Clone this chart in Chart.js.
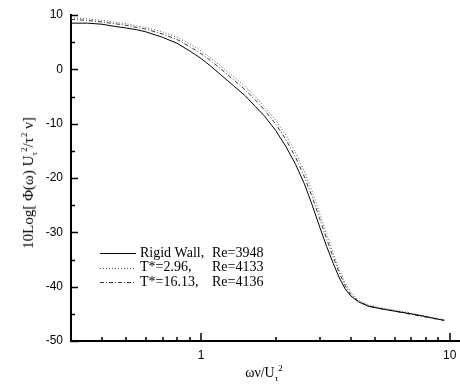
<!DOCTYPE html>
<html>
<head>
<meta charset="utf-8">
<script src="https://cdn.jsdelivr.net/npm/chart.js@4"></script>
<style>
  html, body { margin: 0; padding: 0; background: #fff; }
  #wrap { position: relative; width: 460px; height: 385px; }
  #chart { position: absolute; left: 0; top: 0; }
  .ytitle {
    position: absolute; left: 29px; top: 183px;
    transform: translate(-50%, -50%) rotate(-90deg);
    white-space: nowrap; font: 15px "Liberation Serif", serif; color: #000;
  }
  .xtitle {
    position: absolute; left: 264px; top: 373px;
    transform: translate(-50%, -50%);
    white-space: nowrap; font: 14px "Liberation Serif", serif; color: #000;
  }
  sub, sup { font-size: 9px; }
</style>
</head>
<body>
<div id="wrap">
  <canvas id="chart" width="460" height="385"></canvas>
  <div class="ytitle">10Log[ Φ(ω) U<sub>τ</sub><sup>2</sup>/τ<sup>2</sup> ν]</div>
  <div class="xtitle">ων/U<sub>τ</sub><sup>2</sup></div>
</div>
<script>
// frequency values (ων/Uτ²)
const freq = [0.3, 0.35, 0.4, 0.45, 0.5, 0.55, 0.6, 0.7, 0.8, 0.9, 1.0, 1.1, 1.2, 1.35, 1.5,
  1.65, 1.8, 2.0, 2.2, 2.4, 2.6, 2.8, 3.0, 3.2, 3.4, 3.6, 3.8, 4.0, 4.3, 4.7, 5.2, 6, 7, 8, 9, 9.5];

// spectra, dB
const rigidWall = [8.5, 8.5, 8.3, 7.9, 7.6, 7.3, 6.9, 5.9, 4.8, 3.4, 2.0, 0.5, -1.0, -3.0, -4.8,
  -6.8, -8.6, -11.3, -14.3, -17.5, -21.0, -25.0, -29.0, -32.6, -35.7, -38.4, -40.4, -41.7, -42.8,
  -43.6, -44.0, -44.5, -45.0, -45.5, -46.0, -46.2];
const tStar296 = [9.5, 9.3, 9.0, 8.7, 8.4, 8.0, 7.7, 6.9, 5.9, 4.7, 3.4, 2.0, 0.6, -1.3, -3.1,
  -5.0, -6.9, -9.4, -12.2, -15.3, -18.7, -22.5, -26.5, -30.3, -33.8, -36.9, -39.3, -41.0, -42.5,
  -43.3, -43.8, -44.3, -44.9, -45.4, -45.9, -46.1];
const tStar1613 = [9.2, 9.0, 8.7, 8.4, 8.1, 7.7, 7.4, 6.5, 5.5, 4.2, 2.9, 1.5, 0.1, -1.9, -3.7,
  -5.6, -7.5, -10.1, -13.0, -16.2, -19.7, -23.5, -27.5, -31.2, -34.6, -37.5, -39.8, -41.4, -42.7,
  -43.5, -44.0, -44.5, -45.1, -45.6, -46.0, -46.2];

const legendNames = ['Rigid Wall,', 'T*=2.96,', 'T*=16.13,'];
const legendRe = ['Re=3948', 'Re=4133', 'Re=4136'];

const xMajorTicks = [1, 10];
const xMinorTicks = [0.4, 0.5, 0.6, 0.7, 0.8, 0.9, 2, 3, 4, 5, 6, 7, 8, 9];
const yTicks = [-50, -45, -40, -35, -30, -25, -20, -15, -10, -5, 0, 5, 10];

function pts(ys) {
  return freq.map((f, i) => ({ x: f, y: ys[i] }));
}

// inward tick marks on both axes
const innerTicks = {
  id: 'innerTicks',
  afterDraw(chart) {
    const { ctx, chartArea: a, scales: { x, y } } = chart;
    ctx.save();
    ctx.strokeStyle = '#000';
    ctx.lineWidth = 1.5;
    ctx.beginPath();
    yTicks.forEach(v => {
      const py = Math.round(y.getPixelForValue(v)) + 0.5;
      const len = v % 10 === 0 ? 7 : 4;
      ctx.moveTo(a.left, py);
      ctx.lineTo(a.left + len, py);
    });
    xMajorTicks.forEach(v => {
      const px = Math.round(x.getPixelForValue(v));
      ctx.moveTo(px, a.bottom);
      ctx.lineTo(px, a.bottom - 8);
    });
    xMinorTicks.forEach(v => {
      const px = Math.round(x.getPixelForValue(v));
      ctx.moveTo(px, a.bottom);
      ctx.lineTo(px, a.bottom - 4);
    });
    ctx.stroke();
    ctx.restore();
  }
};

// legend in the lower left of the plot
const insideLegend = {
  id: 'insideLegend',
  afterDraw(chart) {
    const ctx = chart.ctx;
    ctx.save();
    ctx.font = '14px "Liberation Serif", serif';
    ctx.fillStyle = '#000';
    ctx.textBaseline = 'middle';
    chart.data.datasets.forEach((ds, i) => {
      const ry = 253 + i * 14.5;
      ctx.strokeStyle = ds.borderColor;
      ctx.lineWidth = 1;
      ctx.setLineDash(ds.borderDash || []);
      ctx.beginPath();
      ctx.moveTo(100, Math.round(ry) + 0.5);
      ctx.lineTo(136, Math.round(ry) + 0.5);
      ctx.stroke();
      ctx.setLineDash([]);
      ctx.fillText(legendNames[i], 140, ry);
      ctx.fillText(legendRe[i], 212, ry);
    });
    ctx.restore();
  }
};

new Chart(document.getElementById('chart'), {
  type: 'line',
  data: {
    datasets: [
      { label: 'Rigid Wall', data: pts(rigidWall), borderColor: '#000', borderWidth: 1 },
      { label: 'T*=2.96', data: pts(tStar296), borderColor: '#555', borderWidth: 1, borderDash: [1, 2] },
      { label: 'T*=16.13', data: pts(tStar1613), borderColor: '#333', borderWidth: 1, borderDash: [4, 2, 1, 2] }
    ]
  },
  options: {
    responsive: false,
    animation: false,
    layout: { autoPadding: false, padding: { left: 0, right: 0, top: 15, bottom: 0 } },
    elements: { point: { radius: 0, hoverRadius: 0 }, line: { tension: 0 } },
    plugins: { legend: { display: false }, tooltip: { enabled: false } },
    scales: {
      x: {
        type: 'logarithmic',
        min: 0.3,
        max: 11,
        grid: { display: false, drawTicks: false },
        border: { display: true, color: '#000', width: 2 },
        ticks: {
          autoSkip: false,
          maxRotation: 0,
          padding: 7,
          color: '#000',
          font: { family: 'Liberation Sans', size: 12 },
          callback: v => xMajorTicks.some(m => Math.abs(m - v) < 1e-9) ? String(v) : ''
        },
        afterFit: s => { s.height = 44; s.paddingLeft = 0; s.paddingRight = 0; }
      },
      y: {
        min: -50,
        max: 10,
        grid: { display: false, drawTicks: false },
        border: { display: true, color: '#000', width: 2 },
        ticks: {
          stepSize: 10,
          padding: 8,
          color: '#000',
          font: { family: 'Liberation Sans', size: 12 }
        },
        afterFit: s => { s.width = 71; s.paddingTop = 0; s.paddingBottom = 0; }
      }
    }
  },
  plugins: [innerTicks, insideLegend]
});
</script>
</body>
</html>
